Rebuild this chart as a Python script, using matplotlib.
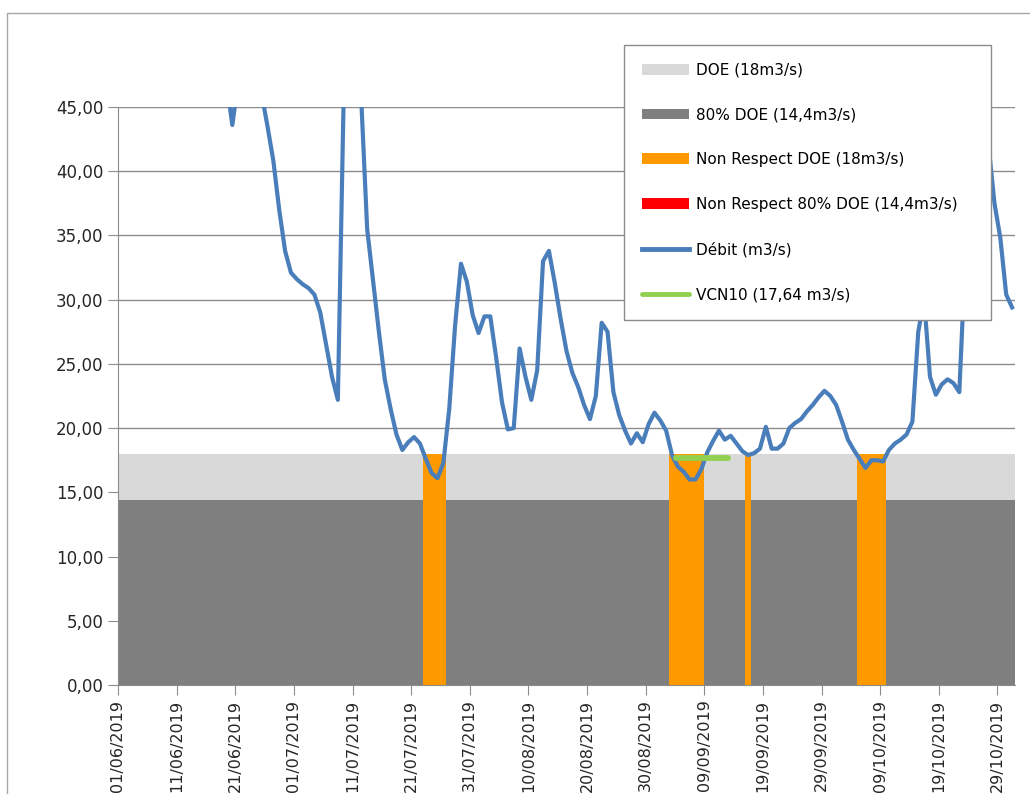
import matplotlib
matplotlib.use("Agg")
import matplotlib.pyplot as plt
import matplotlib.dates as mdates
from matplotlib.patches import Patch, Rectangle
from matplotlib.lines import Line2D
from matplotlib.ticker import FuncFormatter
import numpy as np
import pandas as pd

# daily flow (m3/s), 01/06/2019 -> 31/10/2019
debit = [
    60.0, 58.0, 57.0, 56.0, 55.0, 54.0, 53.0, 52.0, 51.0, 50.5,
    50.0, 49.5, 49.0, 48.5, 48.0, 47.5, 47.0, 46.5, 47.0, 43.6,
    47.0, 49.0, 48.5, 47.5, 46.0, 43.5, 40.8, 37.0, 33.8, 32.1,
    31.6, 31.2, 30.9, 30.4, 29.0, 26.5, 24.0, 22.2, 46.0, 55.0,
    52.0, 45.5, 35.5, 31.5, 27.5, 23.8, 21.5, 19.5, 18.3, 18.9,
    19.3, 18.8, 17.6, 16.5, 16.1, 17.3, 21.5, 28.0, 32.8, 31.4,
    28.8, 27.4, 28.7, 28.7, 25.5, 22.0, 19.9, 20.0, 26.2, 24.0,
    22.2, 24.5, 33.0, 33.8, 31.3, 28.5, 26.0, 24.3, 23.2, 21.8,
    20.7, 22.5, 28.2, 27.5, 22.8, 21.0, 19.8, 18.8, 19.6, 18.9,
    20.3, 21.2, 20.6, 19.8, 17.9, 17.0, 16.6, 16.0, 16.0, 16.8,
    18.1, 19.0, 19.8, 19.1, 19.4, 18.8, 18.2, 17.9, 18.05, 18.4,
    20.1, 18.4, 18.4, 18.8, 20.0, 20.4, 20.7, 21.3, 21.8, 22.4,
    22.9, 22.5, 21.8, 20.5, 19.1, 18.3, 17.6, 16.9, 17.5, 17.5,
    17.4, 18.3, 18.8, 19.1, 19.5, 20.5, 27.5, 30.0, 24.0, 22.6,
    23.4, 23.8, 23.5, 22.8, 33.0, 38.0, 42.0, 44.0, 42.0, 37.5,
    34.8, 30.4, 29.4,
]
doe = 18.0
doe_80 = 14.4
vcn10 = 17.64
vcn10_start = "2019-09-04"
vcn10_days = 10

dates = pd.date_range("2019-06-01", periods=len(debit), freq="D")
debit = np.array(debit)
mid = dates + pd.Timedelta(hours=12)

fig = plt.figure(figsize=(10.30, 7.94), dpi=100)
ax = fig.add_axes([118 / 1030, 1 - 685 / 794, (1015 - 118) / 1030, (685 - 107) / 794])

x0 = pd.Timestamp("2019-06-01")
x1 = pd.Timestamp("2019-11-01")

ax.fill_between([x0, x1], 0, doe, color="#d9d9d9", lw=0, zorder=1)
ax.fill_between([x0, x1], 0, doe_80, color="#7f7f7f", lw=0, zorder=1.1)

low = debit < doe
ax.bar(dates[low], doe, width=1, align="edge", color="#ff9900", lw=0, zorder=2)
very_low = debit < doe_80
if very_low.any():
    ax.bar(dates[very_low], doe_80, width=1, align="edge", color="#ff0000", lw=0, zorder=2.1)

ax.plot(mid, debit, color="#4a7ebb", lw=3, zorder=3, solid_joinstyle="round")

v_dates = pd.date_range(vcn10_start, periods=vcn10_days, freq="D") + pd.Timedelta(hours=3)
ax.plot(v_dates, [vcn10] * vcn10_days, color="#92d050", lw=4.2, solid_capstyle="round", zorder=4)

ax.set_xlim(x0, x1)
ax.set_ylim(0, 45)
ax.set_yticks(np.arange(0, 46, 5))
ax.yaxis.set_major_formatter(FuncFormatter(lambda v, p: f"{v:.2f}".replace(".", ",")))
ax.set_xticks(pd.date_range("2019-06-01", "2019-10-29", freq="10D"))
ax.xaxis.set_major_formatter(mdates.DateFormatter("%d/%m/%Y"))
plt.setp(ax.get_xticklabels(), rotation=90)

ax.grid(axis="y", color="#8c8c8c", lw=1, zorder=0.5)
ax.set_axisbelow(True)
for s in ["top", "right"]:
    ax.spines[s].set_visible(False)
ax.spines["left"].set_color("#8c8c8c")
ax.spines["bottom"].set_color("#8c8c8c")
ax.tick_params(axis="both", colors="#8c8c8c", labelcolor="#262626", labelsize=12, length=7)
ax.tick_params(axis="x", labelsize=11.5)

handles = [
    Patch(facecolor="#d9d9d9", label="DOE (18m3/s)"),
    Patch(facecolor="#7f7f7f", label="80% DOE (14,4m3/s)"),
    Patch(facecolor="#ff9900", label="Non Respect DOE (18m3/s)"),
    Patch(facecolor="#ff0000", label="Non Respect 80% DOE (14,4m3/s)"),
    Line2D([], [], color="#4a7ebb", lw=3.5, label="Débit (m3/s)"),
    Line2D([], [], color="#92d050", lw=3.5, solid_capstyle="round", label="VCN10 (17,64 m3/s)"),
]
lx, ly = 624 / 1030, 1 - 317 / 794
lw_, lh = (991 - 624) / 1030, (317 - 45) / 794
leg = ax.legend(handles=handles, loc="upper left", bbox_to_anchor=(lx, ly, lw_, lh),
                bbox_transform=fig.transFigure, mode="expand", fontsize=11, handlelength=3.1,
                handleheight=0.7, handletextpad=0.45, labelspacing=1.95, borderpad=1.15,
                borderaxespad=0, fancybox=False, framealpha=1, edgecolor="#8c8c8c")
leg.set_zorder(10)
leg.get_frame().set_linewidth(1)

fig.patches.append(Rectangle((7 / 1030, -0.05), 1.1, 1 - 13 / 794 + 0.05, transform=fig.transFigure,
                             fill=False, edgecolor="#a6a6a6", lw=1))

fig.savefig("out.png", dpi=100)
